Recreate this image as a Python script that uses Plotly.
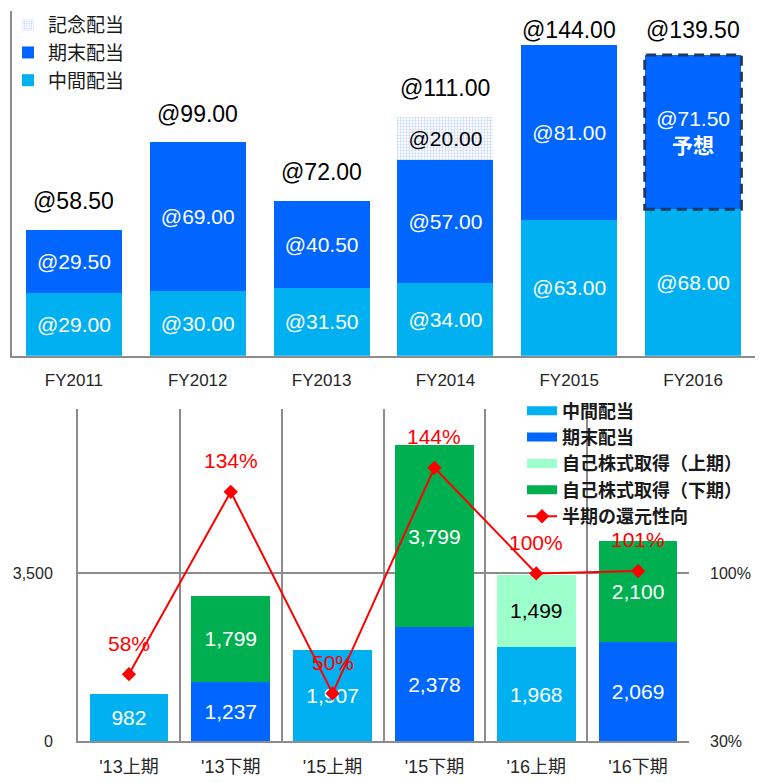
import plotly.graph_objects as go

# upper chart: dividend per share by fiscal year
fiscal_years = ["FY2011", "FY2012", "FY2013", "FY2014", "FY2015", "FY2016"]
interim_dps = [29.00, 30.00, 31.50, 34.00, 63.00, 68.00]
year_end_dps = [29.50, 69.00, 40.50, 57.00, 81.00, 71.50]
commemorative_dps = [None, None, None, 20.00, None, None]
forecast_year = "FY2016"

# lower chart: shareholder returns per half year
halves = ["'13上期", "'13下期", "'15上期", "'15下期", "'16上期", "'16下期"]
interim_div = [982, None, 1907, None, 1968, None]
year_end_div = [None, 1237, None, 2378, None, 2069]
buyback_first = [None, None, None, None, 1499, None]
buyback_second = [None, 1799, None, 3799, None, 2100]
payout_ratio = [58, 134, 50, 144, 100, 101]
ratio_ticks = [30, 100]

SANS = "Liberation Sans, Noto Sans CJK JP, sans-serif"
CJK = "Noto Sans CJK JP, sans-serif"
GRAY = "#8c8c8c"
C_INTERIM = "#00B0F0"
C_YEAR_END = "#0066FF"
C_BUY_1 = "#9CFFCC"
C_BUY_2 = "#00B050"
TOP_MAX = 160

W, H = 763, 783


def px(x):
    """Pixel x -> paper x."""
    return x / W


def py(y):
    """Pixel y (from top) -> paper y."""
    return 1 - y / H


def _fmt_dps(values, suffix_for=None):
    out = []
    for fy, v in zip(fiscal_years, values):
        if v is None:
            out.append("")
        elif fy == suffix_for:
            out.append(f"@{v:.2f}<br><b>予想</b>")
        else:
            out.append(f"@{v:.2f}")
    return out


def _fmt_count(values):
    return ["" if v is None else f"{v:,}" for v in values]


fig = go.Figure()

# ---- upper chart ----
fig.add_bar(
    x=fiscal_years, y=interim_dps, name="中間配当", legendrank=3,
    marker_color=C_INTERIM,
    text=_fmt_dps(interim_dps), textfont=dict(color="white", size=21, family=SANS),
    legend="legend", xaxis="x", yaxis="y",
)
fig.add_bar(
    x=fiscal_years, y=year_end_dps, name="期末配当", legendrank=2,
    marker_color=C_YEAR_END,
    text=_fmt_dps(year_end_dps, forecast_year),
    textfont=dict(color="white", size=21, family=SANS),
    legend="legend", xaxis="x", yaxis="y",
)
fig.add_bar(
    x=fiscal_years, y=commemorative_dps, name="記念配当", legendrank=1,
    marker=dict(
        color="white",
        pattern=dict(shape="+", fgcolor="#7EA6F8", bgcolor="white", size=3, solidity=0.35),
    ),
    text=_fmt_dps(commemorative_dps), textfont=dict(color="black", size=21, family=SANS),
    legend="legend", xaxis="x", yaxis="y",
)

# totals above bars
for fy, a, b, c in zip(fiscal_years, interim_dps, year_end_dps, commemorative_dps):
    total = a + b + (c or 0)
    fig.add_annotation(
        x=fy, y=min(total + 13.3, 151.3), xref="x", yref="y",
        text=f"@{total:.2f}", showarrow=False,
        font=dict(size=23, color="black", family=SANS),
    )

# dashed outline round the forecast year-end dividend
i = fiscal_years.index(forecast_year)
fig.add_shape(
    type="rect", xref="x", yref="y",
    x0=i - 0.39, x1=i + 0.39,
    y0=interim_dps[i], y1=interim_dps[i] + year_end_dps[i],
    line=dict(color="#1F3864", width=3, dash="10px,6px"),
)

# ---- lower chart ----
fig.add_bar(
    x=halves, y=interim_div, name="中間配当", marker_color=C_INTERIM,
    text=_fmt_count(interim_div), textfont=dict(color="white", size=21, family=SANS),
    showlegend=False, xaxis="x2", yaxis="y2",
)
fig.add_bar(
    x=halves, y=year_end_div, name="期末配当", marker_color=C_YEAR_END,
    text=_fmt_count(year_end_div), textfont=dict(color="white", size=21, family=SANS),
    showlegend=False, xaxis="x2", yaxis="y2",
)
fig.add_bar(
    x=halves, y=buyback_first, name="自己株式取得(上期)", marker_color=C_BUY_1,
    text=_fmt_count(buyback_first), textfont=dict(color="black", size=21, family=SANS),
    showlegend=False, xaxis="x2", yaxis="y2",
)
fig.add_bar(
    x=halves, y=buyback_second, name="自己株式取得(下期)", marker_color=C_BUY_2,
    text=_fmt_count(buyback_second), textfont=dict(color="white", size=21, family=SANS),
    showlegend=False, xaxis="x2", yaxis="y2",
)
fig.update_traces(
    textposition="inside", insidetextanchor="middle", textangle=0,
    marker_line_width=0, selector=dict(type="bar"),
)

# legend entries with wide swatches, as in the original
for name, color in [
    ("中間配当", C_INTERIM),
    ("期末配当", C_YEAR_END),
    ("自己株式取得（上期）", C_BUY_1),
    ("自己株式取得（下期）", C_BUY_2),
]:
    fig.add_scatter(
        x=[None], y=[None], mode="lines", name=f"<b>{name}</b>",
        line=dict(color=color, width=9), legend="legend2", xaxis="x2", yaxis="y2",
    )

fig.add_scatter(
    x=halves, y=payout_ratio, name="<b>半期の還元性向</b>", mode="lines+markers",
    line=dict(color="#FF0000", width=2),
    marker=dict(symbol="diamond", size=11, color="#FF0000"),
    legend="legend2", xaxis="x2", yaxis="y3",
)
for h, p in zip(halves, payout_ratio):
    fig.add_annotation(
        x=h, y=p, xref="x2", yref="y3", yshift=31,
        text=f"{p}%", showarrow=False,
        font=dict(size=21, color="#FF0000", family=SANS),
    )

fig.update_layout(
    width=W,
    height=H,
    margin=dict(l=0, r=0, t=0, b=0),
    paper_bgcolor="white",
    plot_bgcolor="white",
    barmode="stack",
    bargap=0.226,
    font=dict(family=SANS, color="#262626"),
    legend=dict(
        x=px(8), y=py(6), xanchor="left", yanchor="top",
        traceorder="normal", tracegroupgap=10,
        font=dict(size=19, family=CJK, color="#1a1a1a"),
        bgcolor="rgba(0,0,0,0)",
    ),
    legend2=dict(
        x=px(522), y=py(397), xanchor="left", yanchor="top",
        traceorder="normal", tracegroupgap=0,
        font=dict(size=18, family=CJK, color="#1a1a1a"),
        bgcolor="rgba(0,0,0,0)",
    ),
    xaxis=dict(
        domain=[px(12), px(755)], anchor="y",
        showline=True, linecolor=GRAY, linewidth=2,
        showgrid=False, ticks="", ticklabelstandoff=8,
        tickfont=dict(size=17, family=SANS, color="#262626"),
    ),
    yaxis=dict(
        domain=[py(360), py(11)], anchor="x", range=[0, TOP_MAX],
        showline=True, linecolor=GRAY, linewidth=2,
        showgrid=False, zeroline=False, showticklabels=False,
    ),
    xaxis2=dict(
        domain=[px(78), px(689)], anchor="y2",
        showline=True, linecolor=GRAY, linewidth=2,
        tickson="boundaries", showgrid=True, gridcolor=GRAY, gridwidth=2,
        ticks="", ticklabelstandoff=8,
        tickfont=dict(size=18, family=SANS, color="#262626"),
    ),
    yaxis2=dict(
        domain=[py(750), py(414)], anchor="x2", range=[0, 6918],
        tickvals=[0, 3500], tickformat=",",
        showline=True, linecolor=GRAY, linewidth=2,
        showgrid=True, gridcolor=GRAY, gridwidth=2, zeroline=False,
        ticks="", ticklabelstandoff=20,
        tickfont=dict(size=16, family=SANS, color="#262626"),
    ),
    yaxis3=dict(
        overlaying="y2", anchor="x2", side="right", range=[30, 168.4],
        tickvals=ratio_ticks, ticktext=[f"{v}%" for v in ratio_ticks],
        showline=False, showgrid=False, zeroline=False,
        ticks="", ticklabelstandoff=20,
        tickfont=dict(size=16, family=SANS, color="#262626"),
    ),
)

# drop the default body margin so the figure fills the window exactly
fig.write_html(
    "out.html",
    config={"displayModeBar": False},
    post_script="document.body.style.margin = '0';",
)
